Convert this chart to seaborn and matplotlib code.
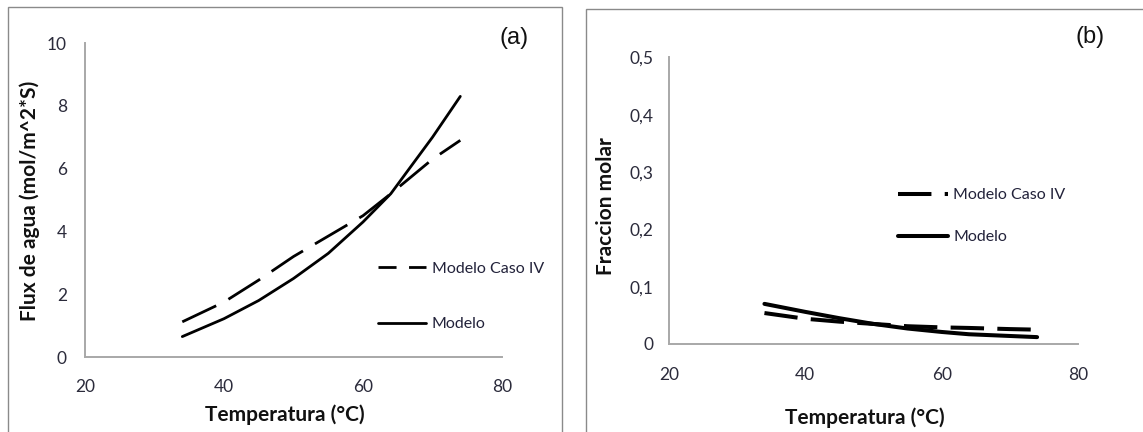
import numpy as np
import pandas as pd
import seaborn as sns
import matplotlib.pyplot as plt
from matplotlib.patches import Rectangle

# values
temperatura = [34, 40, 45, 50, 55, 60, 64, 70, 74]
flux_modelo = [0.65, 1.22, 1.8, 2.5, 3.3, 4.3, 5.2, 7.0, 8.3]
flux_caso_iv = [1.12, 1.75, 2.45, 3.2, 3.85, 4.5, 5.2, 6.3, 6.9]
frac_modelo = [0.070, 0.056, 0.045, 0.035, 0.027, 0.021, 0.017, 0.014, 0.012]
frac_caso_iv = [0.054, 0.044, 0.039, 0.035, 0.031, 0.029, 0.028, 0.026, 0.025]
series = ["Modelo Caso IV", "Modelo"]
x_ticks = [20, 40, 60, 80]
ya_ticks = [0, 2, 4, 6, 8, 10]
yb_ticks = [0, 0.1, 0.2, 0.3, 0.4, 0.5]
yb_labels = ["0", "0,1", "0,2", "0,3", "0,4", "0,5"]

sns.set_style("white")
plt.rcParams["font.family"] = ["Lato", "DejaVu Sans"]

df_a = pd.DataFrame({
    "Temperatura": temperatura * 2,
    "Valor": flux_caso_iv + flux_modelo,
    "Serie": [series[0]] * len(temperatura) + [series[1]] * len(temperatura),
})
df_b = pd.DataFrame({
    "Temperatura": temperatura * 2,
    "Valor": frac_caso_iv + frac_modelo,
    "Serie": [series[0]] * len(temperatura) + [series[1]] * len(temperatura),
})

fig = plt.figure(figsize=(11.43, 4.32), dpi=100)
W, H = 1143, 432
ax1 = fig.add_axes([85 / W, 1 - 357 / H, 417 / W, 314 / H])
ax2 = fig.add_axes([669 / W, 1 - 344 / H, 409 / W, 286.7 / H])

# panel frames
fig.patches.append(Rectangle((8 / W, -0.05), 554 / W, 1.05 - 7 / H, transform=fig.transFigure,
                             fill=False, edgecolor="#8a8a8a", lw=1))
fig.patches.append(Rectangle((586 / W, -0.05), 0.6, 1.05 - 9 / H, transform=fig.transFigure,
                             fill=False, edgecolor="#8a8a8a", lw=1))

tick_col = "#2b2b3b"
txt_col = "#22223a"

configs = [
    (ax1, df_a, 2.0, (13.5, 5), (6.5, 4.5), 0, 10, ya_ticks, [str(t) for t in ya_ticks],
     "Flux de agua (mol/m^2*S)", (0.48, -0.152), (-0.108, 0.497), (0.703, 0.193), 2.6,
     3.0, "(a)", (514, 38), 13, 16),
    (ax2, df_b, 2.9, (8.3, 3.3), (8.3, 3.3), 0, 0.5, yb_ticks, yb_labels,
     "Fraccion molar", (0.478, -0.22), (-0.13, 0.481), (0.56, 0.446), 1.75,
     3.1, "(b)", (1090, 37), 11.5, 16.5),
]

for (ax, df, lw, dash, leg_dash, y0, y1, yt, ytl, ylab, xl_pos, yl_pos, leg_pos,
     lspace, hlen, tag, tag_pos, ypad, xpad) in configs:
    sns.lineplot(data=df, x="Temperatura", y="Valor", style="Serie", style_order=series,
                 dashes={series[0]: dash, series[1]: ""}, color="black", lw=lw,
                 ax=ax, sort=False)
    ax.set_xlim(20, 80)
    ax.set_ylim(y0, y1)
    ax.set_xticks(x_ticks)
    ax.set_xticklabels([str(t) for t in x_ticks])
    ax.set_yticks(yt)
    ax.set_yticklabels(ytl)
    ax.tick_params(axis="both", length=0, labelsize=12.5, colors=tick_col)
    ax.tick_params(axis="y", pad=ypad)
    ax.tick_params(axis="x", pad=xpad)
    for s in ["top", "right"]:
        ax.spines[s].set_visible(False)
    for s in ["left", "bottom"]:
        ax.spines[s].set_color("#a8a8a8")
        ax.spines[s].set_linewidth(1.4)
    ax.set_xlabel("Temperatura (°C)", fontsize=15, fontweight="bold", color="#111111")
    ax.set_ylabel(ylab, fontsize=15, fontweight="bold", color="#111111")
    ax.xaxis.set_label_coords(*xl_pos)
    ax.yaxis.set_label_coords(*yl_pos)

    old = ax.get_legend()
    handles = old.legend_handles
    labels = [t.get_text() for t in old.texts]
    leg = ax.legend(handles, labels, loc="center left", bbox_to_anchor=leg_pos,
                    frameon=False, borderpad=0, borderaxespad=0, handlelength=hlen,
                    handletextpad=0.35, labelspacing=lspace, fontsize=11.5)
    for t in leg.get_texts():
        t.set_color(txt_col)
    for ln in leg.get_lines():
        ln.set_color("black")
        ln.set_linewidth(lw)
    leg.get_lines()[0].set_dashes(leg_dash)

    fig.text(tag_pos[0] / W, 1 - tag_pos[1] / H, tag, fontsize=17, ha="center", va="center",
             family=["Liberation Sans", "DejaVu Sans"], color="#111111")

fig.savefig("out.png", dpi=100, facecolor="white")
